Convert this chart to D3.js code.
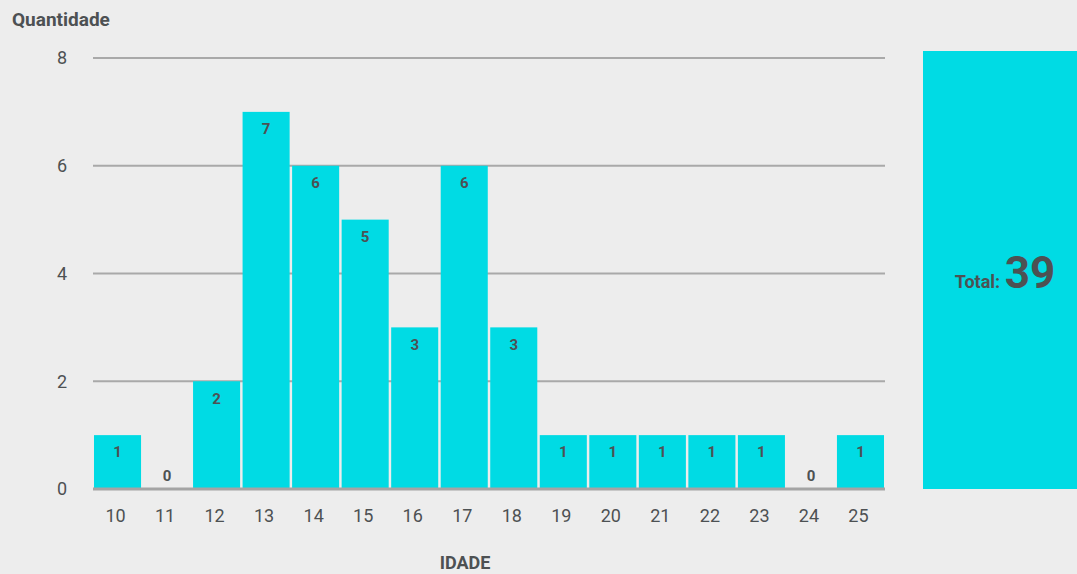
<!DOCTYPE html>
<html>
<head>
<meta charset="utf-8">
<script src="https://cdn.jsdelivr.net/npm/d3@7"></script>
<style>
  html, body { margin: 0; padding: 0; background: #ededed; }
  svg { display: block; font-family: Roboto, "Noto Sans", sans-serif; }
</style>
</head>
<body>
<svg id="chart" width="1077" height="574"></svg>
<script>
// Ages and number of people at each age
const ages = ["10","11","12","13","14","15","16","17","18","19","20","21","22","23","24","25"];
const counts = [1, 0, 2, 7, 6, 5, 3, 6, 3, 1, 1, 1, 1, 1, 0, 1];
const yTicks = [0, 2, 4, 6, 8];

const svg = d3.select("#chart");
const W = 1077;
const plotLeft = 93, plotRight = 885, plotTop = 58, plotBottom = 489;
const barColor = "#00dbe4";
const textColor = "#4d5153";

const x = d3.scaleBand().domain(ages).range([plotLeft, plotRight]).paddingInner(0.05).paddingOuter(0.02);
const y = d3.scaleLinear().domain([0, 8]).range([plotBottom, plotTop]);

// Horizontal gridlines
svg.append("g").selectAll("line").data(yTicks.filter(d => d > 0)).join("line")
  .attr("x1", plotLeft).attr("x2", plotRight)
  .attr("y1", d => y(d)).attr("y2", d => y(d))
  .attr("stroke", "#a9a9a9").attr("stroke-width", 2);

// Value axis labels
const yAxis = d3.axisLeft(y).tickValues(yTicks).tickSize(0).tickPadding(0);
const yg = svg.append("g").attr("transform", "translate(67,0)").call(yAxis);
yg.select(".domain").remove();
yg.selectAll("text").attr("font-size", 18).attr("fill", textColor).attr("font-weight", 400)
  .attr("font-family", "Roboto, sans-serif");

// Bars
svg.append("g").selectAll("rect").data(counts).join("rect")
  .attr("x", (d, i) => x(ages[i]))
  .attr("width", x.bandwidth())
  .attr("y", d => y(d))
  .attr("height", d => plotBottom - y(d))
  .attr("fill", barColor);

// Value labels
svg.append("g").selectAll("text").data(counts).join("text")
  .attr("x", (d, i) => x(ages[i]) + x.bandwidth() / 2)
  .attr("y", d => Math.min(y(d) + 17, plotBottom - 13))
  .attr("dy", "0.35em")
  .attr("text-anchor", "middle")
  .attr("font-size", 15).attr("font-weight", 700).attr("fill", textColor)
  .text(d => d);

// Baseline / category axis
const xAxis = d3.axisBottom(x).tickSize(0).tickPadding(20);
const xg = svg.append("g").attr("transform", `translate(0,${plotBottom})`).call(xAxis);
xg.select(".domain").attr("stroke", "#a4a4a4").attr("stroke-width", 3)
  .attr("d", `M${plotLeft},0H${plotRight}`);
xg.selectAll("text").attr("font-size", 18).attr("fill", textColor).attr("font-weight", 400)
  .attr("font-family", "Roboto, sans-serif")
  .attr("dx", -2);

// Axis titles
svg.append("text").attr("x", 12).attr("y", 26)
  .attr("font-size", 19).attr("font-weight", 700).attr("fill", textColor)
  .text("Quantidade");
svg.append("text").attr("x", 465).attr("y", 569)
  .attr("text-anchor", "middle")
  .attr("font-size", 18).attr("font-weight", 700).attr("fill", textColor)
  .text("IDADE");

// Total panel
const total = d3.sum(counts);
svg.append("rect").attr("x", 923).attr("y", 51).attr("width", W - 923).attr("height", plotBottom - 51)
  .attr("fill", barColor);
const t = svg.append("text").attr("x", 1005).attr("y", 288).attr("text-anchor", "middle")
  .attr("fill", textColor).attr("font-weight", 700);
t.append("tspan").attr("font-size", 18).text("Total: ");
t.append("tspan").attr("font-size", 44).text(total);
</script>
</body>
</html>
